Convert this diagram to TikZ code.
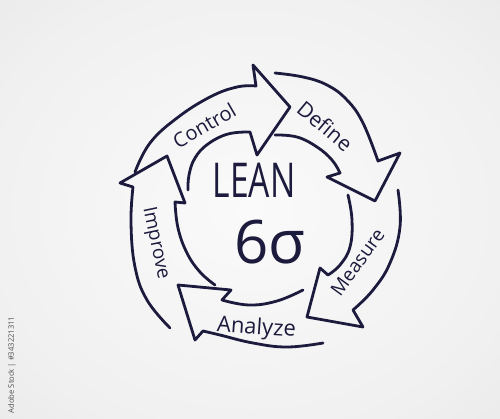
\documentclass[tikz,border=0pt]{standalone}
\usepackage{fontspec}
\setmainfont{Open Sans}
\usepackage{graphicx}
\definecolor{ink}{HTML}{1C1B3D}
\definecolor{bgA}{HTML}{FAFAFA}
\definecolor{bgB}{HTML}{F0F0F0}
\definecolor{bgC}{HTML}{D4D4D4}
\pgfdeclareradialshading{bgshade}{\pgfpoint{0bp}{0bp}}{color(0bp)=(bgA); color(28bp)=(bgB); color(72bp)=(bgC)}
\begin{document}
\begin{tikzpicture}[x=0.5pt,y=-0.5pt,
  stroke/.style={draw=ink, line width=1.4pt, line cap=round, line join=round},
  lbl/.style={text=ink, inner sep=0pt, anchor=base}]
\useasboundingbox (0,0) rectangle (500,419);
\shade[shading=bgshade] (0,0) rectangle (500,419);

% Control
\draw[stroke] plot[smooth, tension=0.7] coordinates {(188,190) (189,175) (195,158) (208,144) (228,134) (250,132)}
  -- (257,155) -- (290,107) -- (253,65)
  -- plot[smooth, tension=0.7] coordinates {(256,86) (237,87) (210,97) (177,118) (150,143) (135,172)};
% Define
\draw[stroke] plot[smooth, tension=0.7] coordinates {(275,135) (297,137) (317,147) (332,160) (340,173)}
  -- (327,177) -- (375,201) -- (400,153)
  -- plot[smooth, tension=0.7] coordinates {(378,161) (363,123) (347,100) (327,85) (303,77) (275,73)};
% Measure
\draw[stroke] plot[smooth, tension=0.7] coordinates {(348,195) (352,220) (350,247) (340,265) (328,275)}
  -- (320,268) -- (307,317) -- (363,327)
  -- plot[smooth, tension=0.7] coordinates {(353,310) (373,290) (390,263) (400,227) (398,190)};
% Analyze
\draw[stroke] plot[smooth, tension=0.7] coordinates {(303,290) (277,301) (249,305) (222,300)}
  -- (231,290) -- (178,285) -- (195,340)
  -- plot[smooth, tension=0.7] coordinates {(203,331) (220,335) (253,343) (287,347) (323,343)};
% Improve
\draw[stroke] plot[smooth, tension=0.7] coordinates {(215,285) (200,272) (187,253) (178,228) (175,202)}
  -- (185,203) -- (167,156) -- (120,183)
  -- plot[smooth, tension=0.7] coordinates {(133,187) (131,223) (135,267) (147,300) (170,328)};

\node[lbl, font=\fontsize{10}{12}\selectfont, rotate=30] (control) at (208,132) {Control};
\node[lbl, font=\fontsize{10.5}{12}\selectfont, rotate=-40] (define) at (320,132) {Define};
\node[lbl, font=\fontsize{9.5}{12}\selectfont, rotate=54] (measure) at (363,266) {Measure};
\node[lbl, font=\fontsize{11}{12}\selectfont, rotate=-4] (analyze) at (256,334) {Analyze};
\node[lbl, font=\fontsize{9.5}{12}\selectfont, rotate=-78] (improve) at (151,244) {Improve};

\node[text=ink, inner sep=0pt, font=\fontsize{24}{28}\selectfont] (lean) at (254,180) {\scalebox{0.7}[1]{LEAN}};
\node[text=ink, inner sep=0pt, font=\fontsize{30}{34}\selectfont] (sigma) at (270,242) {6σ};

\node[text=black!70, inner sep=0pt, rotate=90, font=\fontsize{3.8}{4}\selectfont] (stockid) at (12,365) {Adobe Stock | \#343221311};
\end{tikzpicture}
\end{document}
